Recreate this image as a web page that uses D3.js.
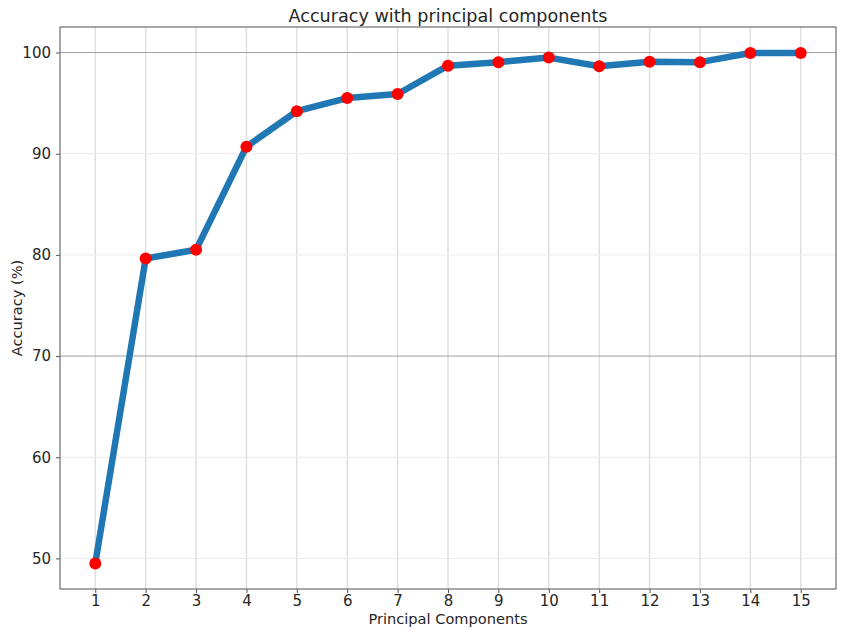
<!DOCTYPE html>
<html><head><meta charset="utf-8">
<script src="https://cdn.jsdelivr.net/npm/d3@7/dist/d3.min.js"></script>
<style>body{margin:0;background:#fff}svg{display:block}text{font-family:"DejaVu Sans",sans-serif;fill:#262626}</style>
</head><body>
<script>
const components = [1,2,3,4,5,6,7,8,9,10,11,12,13,14,15];
const accuracy = [49.5,79.65,80.5,90.7,94.2,95.5,95.9,98.7,99.05,99.5,98.65,99.1,99.05,99.95,99.95];
const yTicks = [50,60,70,80,90,100];
const darkGrid = [70,100];
const W=846,H=635, m={l:60,t:27,r:10,b:46};
const svg=d3.select("body").append("svg").attr("width",W).attr("height",H);
const x=d3.scaleLinear().domain([0.3,15.7]).range([m.l,W-m.r]);
const y=d3.scaleLinear().domain([46.975,102.525]).range([H-m.b,m.t]);
const g=svg.append("g");
// grid
g.selectAll(".vg").data(components).join("line").attr("x1",d=>x(d)).attr("x2",d=>x(d)).attr("y1",m.t).attr("y2",H-m.b).attr("stroke","#e0e0e0").attr("stroke-width",1.5);
g.selectAll(".hg").data(yTicks).join("line").attr("x1",m.l).attr("x2",W-m.r).attr("y1",d=>y(d)).attr("y2",d=>y(d)).attr("stroke",d=>darkGrid.includes(d)?"#a0a0a0":"#ececec").attr("stroke-width",1);
// axes
const xa=svg.append("g").attr("transform",`translate(0,${H-m.b})`).call(d3.axisBottom(x).tickValues(components).tickSize(4).tickPadding(2));
const ya=svg.append("g").attr("transform",`translate(${m.l},0)`).call(d3.axisLeft(y).tickValues(yTicks).tickSize(4).tickPadding(5));
[xa,ya].forEach(a=>{a.select(".domain").remove();a.selectAll("line").attr("stroke","#555");a.selectAll("text").attr("font-size",15).attr("font-family","DejaVu Sans").attr("fill","#262626");});
svg.append("rect").attr("x",m.l).attr("y",m.t).attr("width",W-m.r-m.l).attr("height",H-m.b-m.t).attr("fill","none").attr("stroke","#6e6e6e").attr("stroke-width",1.2);
// line
const line=d3.line().x((d,i)=>x(components[i])).y(d=>y(d));
svg.append("path").datum(accuracy).attr("d",line).attr("fill","none").attr("stroke","#1f77b4").attr("stroke-width",6.5).attr("stroke-linejoin","round");
svg.selectAll(".pt").data(accuracy).join("circle").attr("cx",(d,i)=>x(components[i])).attr("cy",d=>y(d)).attr("r",6).attr("fill","#ff0000");
// labels
svg.append("text").attr("x",(m.l+W-m.r)/2).attr("y",22).attr("text-anchor","middle").attr("font-size",17.6).text("Accuracy with principal components");
svg.append("text").attr("x",(m.l+W-m.r)/2).attr("y",624).attr("text-anchor","middle").attr("font-size",14.6).text("Principal Components");
svg.append("text").attr("transform",`translate(22,${(m.t+H-m.b)/2}) rotate(-90)`).attr("text-anchor","middle").attr("font-size",14.6).text("Accuracy (%)");
</script>
</body></html>
